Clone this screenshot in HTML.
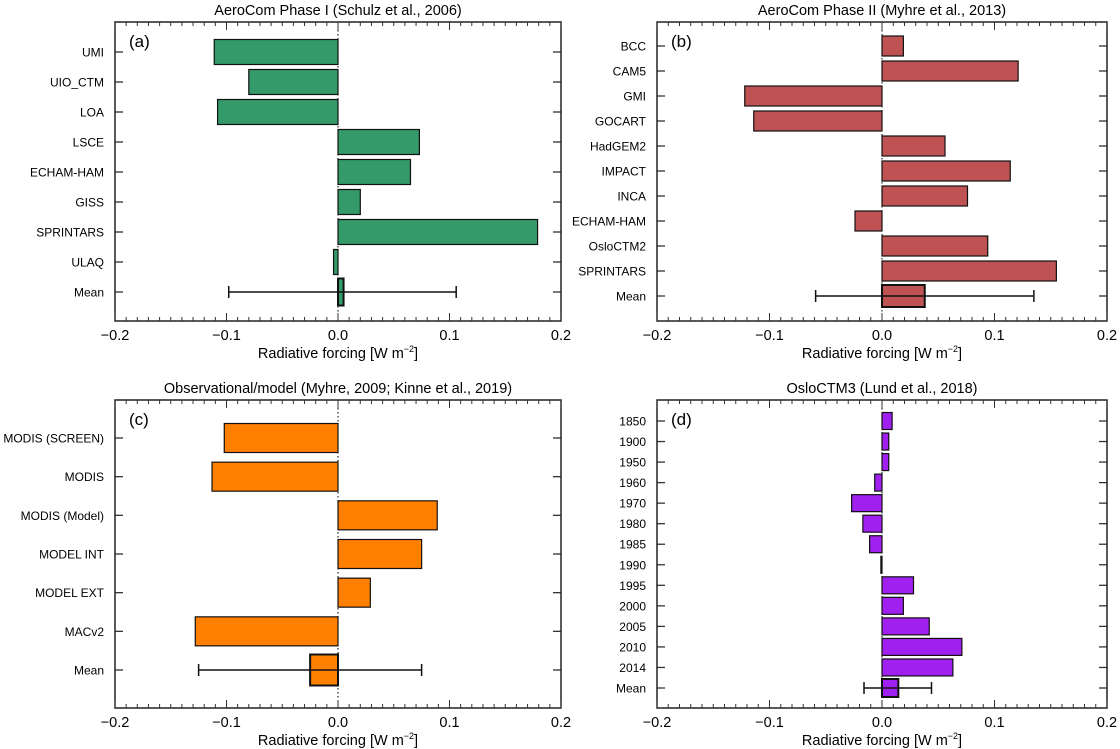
<!DOCTYPE html>
<html><head><meta charset="utf-8"><style>
html,body{margin:0;padding:0;background:#fff;}
svg{display:block;font-family:"Liberation Sans",Arial,sans-serif;}
</style></head><body>
<svg id="fig" width="1120" height="749" viewBox="0 0 1120 749" xmlns="http://www.w3.org/2000/svg"></svg>
<script>
// Panel (a)
const catsA = ["UMI","UIO_CTM","LOA","LSCE","ECHAM-HAM","GISS","SPRINTARS","ULAQ","Mean"];
const valsA = [-0.111,-0.080,-0.108,0.073,0.065,0.020,0.179,-0.004,0.005];
const errA = [-0.098,0.106];
// Panel (b)
const catsB = ["BCC","CAM5","GMI","GOCART","HadGEM2","IMPACT","INCA","ECHAM-HAM","OsloCTM2","SPRINTARS","Mean"];
const valsB = [0.019,0.121,-0.122,-0.114,0.056,0.114,0.076,-0.024,0.094,0.155,0.038];
const errB = [-0.059,0.135];
// Panel (c)
const catsC = ["MODIS (SCREEN)","MODIS","MODIS (Model)","MODEL INT","MODEL EXT","MACv2","Mean"];
const valsC = [-0.102,-0.113,0.089,0.075,0.029,-0.128,-0.025];
const errC = [-0.125,0.075];
// Panel (d)
const catsD = ["1850","1900","1950","1960","1970","1980","1985","1990","1995","2000","2005","2010","2014","Mean"];
const valsD = [0.009,0.006,0.006,-0.0065,-0.027,-0.017,-0.011,-0.001,0.028,0.019,0.042,0.071,0.063,0.0145];
const errD = [-0.016,0.044];
const xTicks = [-0.2,-0.1,0.0,0.1,0.2];
const xTickLabels = ["\u22120.2","\u22120.1","0.0","0.1","0.2"];

const NS="http://www.w3.org/2000/svg";
const svg=document.getElementById('fig');
function mk(tag,attrs,parent){const e=document.createElementNS(NS,tag);for(const k in attrs)e.setAttribute(k,attrs[k]);(parent||svg).appendChild(e);return e;}

function panel(cfg){
  const g=mk('g',{});
  
  
  const L=cfg.left,R=cfg.right,T=cfg.top,B=cfg.bottom;
  const x=v=>L+(v+0.2)/0.4*(R-L);
  const n=cfg.cats.length;
  const y=i=>cfg.y0+i*(cfg.y1-cfg.y0)/(n-1);
  const t=mk('text',{x:(L+R)/2,y:T-7,'text-anchor':'middle','font-size':'14.5',fill:'#000'},g);
  t.textContent=cfg.title;
  
  
  const z=mk('line',{x1:x(0),x2:x(0),y1:T,y2:B,stroke:'#000','stroke-width':1,'stroke-dasharray':'1.5,2.5'},g);
  
  
  for(let i=0;i<n;i++){
    const v=cfg.vals[i];
    const isMean=i===n-1;
    const h=isMean?cfg.mh:cfg.bh;
    const x0=Math.min(x(0),x(v)),w=Math.max(Math.abs(x(v)-x(0)),1);
    const r=mk('rect',{x:x0,y:y(i)-h/2,width:w,height:h,fill:cfg.color,stroke:'#111','stroke-width':isMean?2:1.2},g);
    
    
    const lb=mk('text',{x:L-11,y:y(i)+4.5,'text-anchor':'end','font-size':'12',fill:'#000'},g);
    lb.textContent=cfg.cats[i];
    
    
    mk('line',{x1:L,x2:L+8,y1:y(i),y2:y(i),stroke:'#333','stroke-width':1.3},g);
    mk('line',{x1:R-8,x2:R,y1:y(i),y2:y(i),stroke:'#333','stroke-width':1.3},g);
  }
  const ym=y(n-1);
  const e=mk('g',{},g);
  
  
  mk('line',{x1:x(cfg.err[0]),x2:x(cfg.err[1]),y1:ym,y2:ym,stroke:'#111','stroke-width':1.5},e);
  mk('line',{x1:x(cfg.err[0]),x2:x(cfg.err[0]),y1:ym-6,y2:ym+6,stroke:'#111','stroke-width':1.5},e);
  mk('line',{x1:x(cfg.err[1]),x2:x(cfg.err[1]),y1:ym-6,y2:ym+6,stroke:'#111','stroke-width':1.5},e);
  const f=mk('rect',{x:L,y:T,width:R-L,height:B-T,fill:'none',stroke:'#222','stroke-width':1.5},g);
  
  
  for(let k=-20;k<=20;k++){
    const xv=x(k/100),major=k%10===0,len=major?8:4;
    mk('line',{x1:xv,x2:xv,y1:B,y2:B-len,stroke:'#333','stroke-width':1},g);
    mk('line',{x1:xv,x2:xv,y1:T,y2:T+len,stroke:'#333','stroke-width':1},g);
  }
  xTicks.forEach((v,i)=>{
    const tl=mk('text',{x:x(v),y:B+19,'text-anchor':'middle','font-size':'14.5',fill:'#000'},g);
    tl.textContent=xTickLabels[i];
    
    
  });
  const xt=mk('text',{x:(L+R)/2,y:B+37,'text-anchor':'middle','font-size':'14.5',fill:'#000'},g);
  xt.innerHTML='Radiative forcing [W m<tspan dy="-6" font-size="9">\u22122</tspan><tspan dy="6">]</tspan>';
  
  
  const pl=mk('text',{x:L+14,y:T+25,'font-size':'17',fill:'#000'},g);
  pl.textContent=cfg.letter;
  
  
}
panel({name:'panel-a',title:'AeroCom Phase I (Schulz et al., 2006)',letter:'(a)',left:115,right:561,top:22,bottom:321,y0:52,y1:292,bh:25,mh:27,color:'#349a69',cats:catsA,vals:valsA,err:errA});
panel({name:'panel-b',title:'AeroCom Phase II (Myhre et al., 2013)',letter:'(b)',left:657,right:1107,top:22,bottom:321,y0:46,y1:296,bh:20,mh:22,color:'#bf5353',cats:catsB,vals:valsB,err:errB});
panel({name:'panel-c',title:'Observational/model (Myhre, 2009; Kinne et al., 2019)',letter:'(c)',left:115,right:561,top:400,bottom:708,y0:438,y1:670,bh:29,mh:31,color:'#ff8000',cats:catsC,vals:valsC,err:errC});
panel({name:'panel-d',title:'OsloCTM3 (Lund et al., 2018)',letter:'(d)',left:657,right:1107,top:400,bottom:708,y0:421,y1:688,bh:17,mh:18,color:'#a020f0',cats:catsD,vals:valsD,err:errD});
</script>
</body></html>
